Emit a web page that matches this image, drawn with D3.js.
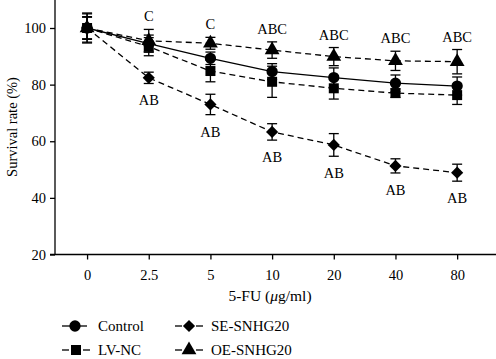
<!DOCTYPE html>
<html><head><meta charset="utf-8">
<script src="https://cdn.jsdelivr.net/npm/d3@7"></script>
<style>body{margin:0;background:#fff}svg{display:block}text{font-family:"Liberation Serif","Times New Roman",serif;fill:#000}</style>
</head><body>
<svg id="c" width="496" height="359"></svg>
<script>
const categories = ["0","2.5","5","10","20","40","80"];
const yTicks = [20,40,60,80,100];
const control = [100,94.5,89.3,84.6,82.5,80.5,79.5];
const controlErr = [5,3,2.2,2.8,3.4,2.9,3.2];
const lvnc = [100,93.4,84.8,81,78.7,77,76.3];
const lvncErr = [3.8,3.2,3.8,5.5,3.8,1.5,3.3];
const se = [100,82.4,73,63.3,58.7,51.3,48.9];
const seErr = [4,2,3.6,2.9,4,2.5,3];
const oe = [100,95.5,94.6,92.2,89.9,88.4,88.1];
const oeErr = [5.3,4,2.1,2.9,3.2,3.4,4.3];
const topLabels = ["","C","C","ABC","ABC","ABC","ABC"];
const bottomLabels = ["","AB","AB","AB","AB","AB","AB"];

const svg = d3.select("#c");
const x = d3.scaleLinear().domain([-0.52,6.63]).range([55,496]);
const y = d3.scaleLinear().domain([20,100]).range([254.5,28]);
const FS = 14.5;

// axes
const gy = svg.append("g").attr("transform","translate(55,0)");
gy.append("line").attr("x1",0).attr("x2",0).attr("y1",0).attr("y2",y(20)).attr("stroke","#000").attr("stroke-width",1.3);
gy.call(g=>{
  const ax = d3.axisLeft(y).tickValues(yTicks).tickSize(5).tickPadding(4);
  ax(g);
  g.select(".domain").remove();
  g.selectAll(".tick line").attr("stroke","#000").attr("stroke-width",1.3);
  g.selectAll(".tick text").attr("font-size",FS).attr("font-family","Liberation Serif");
});
const gx = svg.append("g").attr("transform",`translate(0,${y(20)})`);
gx.append("line").attr("x1",50).attr("x2",496).attr("stroke","#000").attr("stroke-width",1.3);
gx.call(g=>{
  const ax = d3.axisBottom(x).tickValues(d3.range(categories.length)).tickFormat(i=>categories[i]).tickSize(5).tickPadding(10);
  ax(g);
  g.select(".domain").remove();
  g.selectAll(".tick line").attr("stroke","#000").attr("stroke-width",1.3);
  g.selectAll(".tick text").attr("font-size",FS).attr("font-family","Liberation Serif");
});

svg.append("text").attr("transform",`translate(17,127) rotate(-90)`).attr("text-anchor","middle").attr("font-size",14.5).text("Survival rate (%)");
const xt = svg.append("text").attr("x",270).attr("y",301).attr("text-anchor","middle").attr("font-size",15.5);
xt.append("tspan").text("5-FU (");
xt.append("tspan").attr("font-style","italic").text("μ");
xt.append("tspan").text("g/ml)");

const series = [
  {name:"Control", v:control, e:controlErr, dash:null, sym:d3.symbolCircle, size:100, rot:0},
  {name:"LV-NC", v:lvnc, e:lvncErr, dash:"6,4", sym:d3.symbolSquare, size:100, rot:0},
  {name:"SE-SNHG20", v:se, e:seErr, dash:"6,4", sym:d3.symbolSquare, size:74, rot:45},
  {name:"OE-SNHG20", v:oe, e:oeErr, dash:"6,4", sym:d3.symbolTriangle, size:95, rot:0},
];
const line = d3.line().x((d,i)=>x(i)).y(d=>y(d));
series.forEach(s=>{
  svg.append("path").attr("d",line(s.v)).attr("fill","none").attr("stroke","#000").attr("stroke-width",1.3).attr("stroke-dasharray",s.dash);
});
series.forEach(s=>{
  const g = svg.append("g");
  s.v.forEach((v,i)=>{
    const cx=x(i), y1=y(v+s.e[i]), y2=y(v-s.e[i]);
    g.append("line").attr("x1",cx).attr("x2",cx).attr("y1",y1).attr("y2",y2).attr("stroke","#000").attr("stroke-width",1.3);
    [y1,y2].forEach(yy=>g.append("line").attr("x1",cx-5).attr("x2",cx+5).attr("y1",yy).attr("y2",yy).attr("stroke","#000").attr("stroke-width",1.3));
  });
});
series.forEach(s=>{
  s.v.forEach((v,i)=>{
    svg.append("path").attr("d",d3.symbol(s.sym,s.size)()).attr("transform",`translate(${x(i)},${y(v)}) rotate(${s.rot})`).attr("fill","#000");
  });
});
// significance labels
topLabels.forEach((t,i)=>{ if(t) svg.append("text").attr("x",x(i)).attr("y",y(oe[i]+oeErr[i])-8).attr("text-anchor","middle").attr("font-size",FS).text(t); });
bottomLabels.forEach((t,i)=>{ if(t) svg.append("text").attr("x",x(i)).attr("y",y(se[i]-seErr[i])+22).attr("text-anchor","middle").attr("font-size",FS).text(t); });

// legend
const leg = [
  {s:series[0], x:62, y:326},
  {s:series[1], x:62, y:350},
  {s:series[2], x:175, y:326},
  {s:series[3], x:175, y:350},
];
leg.forEach(l=>{
  const g = svg.append("g").attr("transform",`translate(${l.x},${l.y})`);
  if(l.s.dash){
    g.append("line").attr("x1",0).attr("x2",7).attr("stroke","#000").attr("stroke-width",1.3);
    g.append("line").attr("x1",21).attr("x2",28).attr("stroke","#000").attr("stroke-width",1.3);
  } else {
    g.append("line").attr("x1",0).attr("x2",25).attr("stroke","#000").attr("stroke-width",1.3);
  }
  g.append("path").attr("d",d3.symbol(l.s.sym,l.s.size)()).attr("transform",`translate(${l.s.dash?14:13},0) rotate(${l.s.rot})`).attr("fill","#000");
  g.append("text").attr("x",36).attr("y",5).attr("font-size",15).text(l.s.name);
});
</script>
</body></html>
